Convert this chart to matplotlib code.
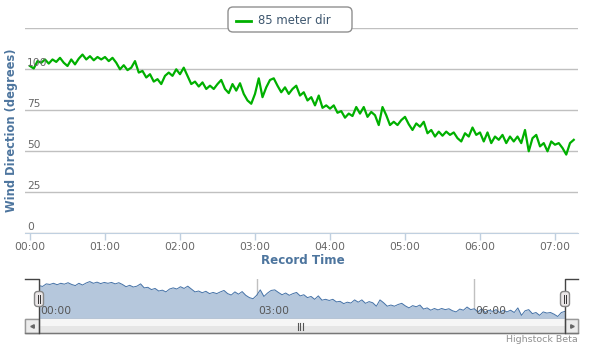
import numpy as np
import matplotlib.pyplot as plt
from matplotlib.patches import FancyBboxPatch, Rectangle

# wind direction at 85 m, one reading every 3 minutes from 00:00
minutes = np.arange(0, 436, 3)
direction = [
    102, 100.5, 105, 104, 106, 103.5, 106, 104.5, 107, 104,
    102, 106, 103, 106.5, 109, 106, 108, 105.5, 107.5, 106,
    107.5, 105, 107, 104, 100, 102.5, 99.5, 101, 105, 98,
    99, 95, 97, 92.5, 94, 91, 96, 98, 96, 100,
    97, 101, 96, 91, 92.5, 89.5, 92, 88, 90, 88,
    91, 93.5, 88, 85.5, 91, 87, 91.5, 85, 81, 79,
    85, 94.5, 83, 89, 93.5, 94.5, 90, 86, 89, 85,
    88, 90, 84, 86, 81, 83, 78, 84, 76.5, 78,
    76, 78, 73.5, 74.5, 70.5, 73, 71.5, 77, 73, 77,
    71, 74, 72, 66, 77, 72, 66, 68, 66, 69,
    71, 66.5, 63, 67, 65, 68, 61, 63, 59, 62,
    59.5, 62, 60, 61.5, 58, 56, 61, 59, 64.5, 60,
    61.5, 56, 61.5, 55, 59, 57, 60, 55, 59, 56,
    59, 55, 63, 50, 58, 60, 53, 55, 50, 56,
    54, 55, 52, 48, 55, 57,
]
series_name = '85 meter dir'
hour_ticks = np.arange(0, 421, 60)
hour_labels = ['%02d:00' % h for h in range(8)]
y_ticks = [0, 25, 50, 75, 100, 125]
nav_ticks = [0, 180, 360]
nav_labels = ['00:00', '03:00', '06:00']

W, H = 595, 352
GREEN = '#00b000'
TXT = '#666666'
TITLE = '#4d759e'

fig = plt.figure(figsize=(W / 100, H / 100), dpi=100)


def box(l, t, r, b):
    return [l / W, 1 - b / H, (r - l) / W, (b - t) / H]


# main chart
ax = fig.add_axes(box(25, 28.3, 578, 233.3))
ax.plot(minutes, direction, color=GREEN, lw=1.6, zorder=3)
ax.set_xlim(-4, 438.4)
ax.set_ylim(0, 125)
ax.set_yticks(y_ticks)
ax.grid(axis='y', color='#c0c0c0', lw=1)
ax.tick_params(axis='y', length=0, labelleft=False)
for v in y_ticks[:-1]:
    ax.text(0.004, v + 3.7, str(v), transform=ax.get_yaxis_transform(),
            ha='left', va='center', fontsize=7.7, color=TXT, zorder=4)
ax.set_xticks(hour_ticks, hour_labels)
ax.tick_params(axis='x', length=5, width=1, color='#c0d0e0', pad=1.5,
               labelsize=7.7, labelcolor=TXT)
for s in ['top', 'left', 'right']:
    ax.spines[s].set_visible(False)
ax.spines['bottom'].set_color('#c0d0e0')

fig.text(12 / W, 1 - 130.5 / H, 'Wind Direction (degrees)', rotation=90,
         ha='center', va='center', fontsize=8.3, fontweight='bold', color=TITLE)
fig.text(303 / W, 1 - 260 / H, 'Record Time', ha='center', va='center',
         fontsize=8.6, fontweight='bold', color=TITLE)

# navigator
nav = fig.add_axes(box(39, 279, 565, 318.5))
nav.fill_between(minutes, direction, 40, color='#b5c7dc', lw=0)
nav.plot(minutes, direction, color='#4572a7', lw=0.7)
nav.set_xlim(0, 435)
nav.set_ylim(44.5, 113.5)
nav.axis('off')
for t, lab in zip(nav_ticks, nav_labels):
    nav.axvline(t, color='#c0c0c0', lw=1, zorder=0)
    nav.text(t + 1, 0.2, lab, transform=nav.get_xaxis_transform(),
             ha='left', va='center', fontsize=7.7, color='#555555')

# scrollbar, handles, credit
deco = fig.add_axes([0, 0, 1, 1], zorder=5)
deco.set_xlim(0, W)
deco.set_ylim(H, 0)
deco.axis('off')
deco.patch.set_alpha(0)
deco.add_patch(Rectangle((25, 319.3), 553, 14, fc='#e6e6e6', ec='#bbbbbb', lw=1))
deco.add_patch(Rectangle((39, 319.3), 526, 7, fc='#f6f6f6', ec='none'))
deco.plot([25, 578], [333.3, 333.3], color='#777777', lw=1)
for xl, xr, mk in [(25, 39, '<'), (565, 578, '>')]:
    deco.add_patch(Rectangle((xl, 319.3), xr - xl, 14, fc='#ececec', ec='#999999', lw=1))
    deco.plot((xl + xr) / 2, 326.3, marker=mk, ms=2.5, color='#666666')
for gx in [297.5, 300, 302.5]:
    deco.plot([gx, gx], [323, 330], color='#555555', lw=0.8)
deco.plot([25, 39, 39], [279, 279, 333.3], color='#444444', lw=1)
deco.plot([578, 565, 565], [279, 279, 333.3], color='#444444', lw=1)
for hx in [39, 565]:
    deco.add_patch(FancyBboxPatch((hx - 4.5, 291.5), 9, 15, boxstyle='round,pad=0,rounding_size=3',
                                  fc='#ebe7e8', ec='#888888', lw=1, zorder=4))
    for gx in [hx - 1.3, hx + 1.3]:
        deco.plot([gx, gx], [295, 303], color='#333333', lw=0.7, zorder=5)
deco.text(578, 339, 'Highstock Beta', ha='right', va='center', fontsize=6.8, color='#909090')

# legend
deco.add_patch(FancyBboxPatch((228, 7), 124, 25, boxstyle='round,pad=0,rounding_size=5',
                              fc='white', ec='#909090', lw=1))
deco.plot([236, 251], [20.5, 20.5], color=GREEN, lw=2)
deco.text(258, 20.5, series_name, ha='left', va='center', fontsize=8.4, color='#3e576f')

plt.savefig('out.png', dpi=100)
